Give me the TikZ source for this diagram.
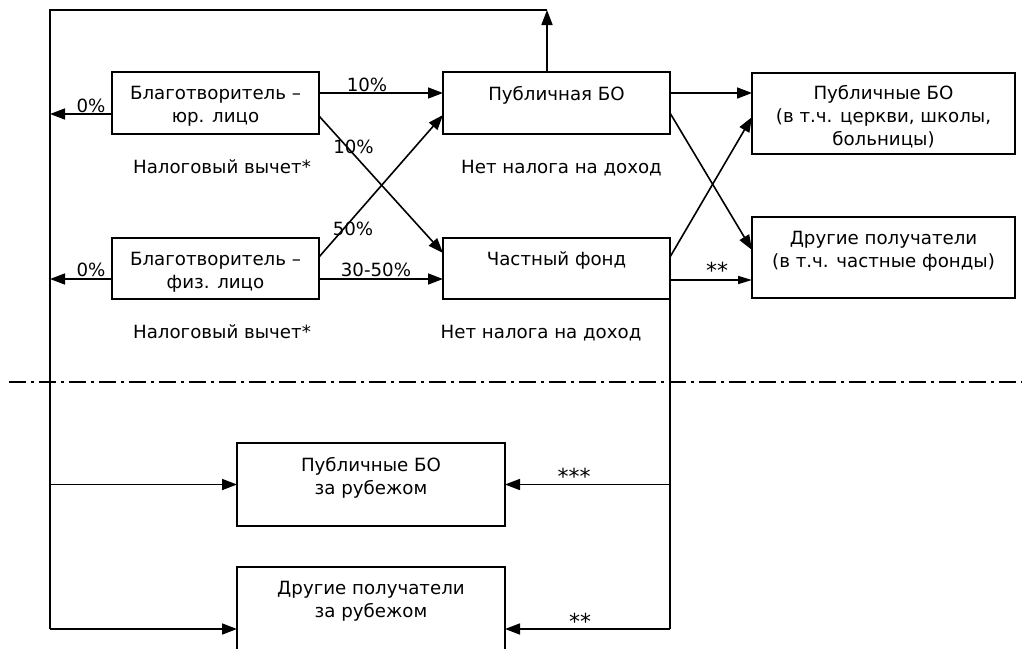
\documentclass[tikz,border=0pt]{standalone}
\usepackage{fontspec}
\setmainfont{DejaVu Sans}
\usetikzlibrary{arrows.meta}
\begin{document}
\begin{tikzpicture}[x=1pt,y=-1pt,
  txt/.style={font=\fontsize{18.2}{22.8}\selectfont, inner sep=0pt, align=center},
  stars/.style={font=\fontsize{22}{22}\selectfont, inner sep=0pt, anchor=base},
  box/.style={draw, line width=2.2pt, inner sep=0pt, outer sep=0pt},
  boxtxt/.style={txt, anchor=north},
  lbl/.style={txt, anchor=base},
  arr/.style={line width=1.6pt, -{Triangle[length=15pt,width=11pt]}},
  arrsmall/.style={line width=1.6pt, -{Triangle[length=14pt,width=8pt]}},
  bus/.style={line width=2pt},
  divider/.style={line width=2.2pt, dash pattern=on 17pt off 5pt on 2.5pt off 5.5pt}]
\useasboundingbox (0,0) rectangle (1022,648);
% boxes
\node[box, minimum width=207pt, minimum height=62pt] (b1) at (215.5,103) {};
\node[box, minimum width=227pt, minimum height=62pt] (p) at (556.5,103) {};
\node[box, minimum width=207pt, minimum height=61pt] (b2) at (215.5,268.5) {};
\node[box, minimum width=227pt, minimum height=61pt] (f) at (556.5,268.5) {};
\node[box, minimum width=263pt, minimum height=81pt] (r1) at (883.5,113.5) {};
\node[box, minimum width=263pt, minimum height=81pt] (r2) at (883.5,257.5) {};
\node[box, minimum width=268pt, minimum height=83pt] (a1) at (371,484.5) {};
\node[box, minimum width=268pt, minimum height=83pt] (a2) at (371,608.5) {};
% box texts
\node[boxtxt] (b1t) at ([yshift=-14pt]b1.north) {Благотворитель –\\юр. лицо};
\node[boxtxt] (pt) at ([yshift=-14pt]p.north) {Публичная БО};
\node[boxtxt] (b2t) at ([yshift=-14pt]b2.north) {Благотворитель –\\физ. лицо};
\node[boxtxt] (ft) at ([yshift=-13.5pt]f.north) {Частный фонд};
\node[boxtxt] (r1t) at ([yshift=-12.5pt]r1.north) {Публичные БО\\(в т.ч. церкви, школы,\\больницы)};
\node[boxtxt] (r2t) at ([yshift=-14.5pt]r2.north) {Другие получатели\\(в т.ч. частные фонды)};
\node[boxtxt] (a1t) at ([yshift=-14pt]a1.north) {Публичные БО\\за рубежом};
\node[boxtxt] (a2t) at ([yshift=-14.5pt]a2.north) {Другие получатели\\за рубежом};
% bus coordinates
\coordinate (tl) at (50,10);
\coordinate (tr) at (547,10);
\coordinate (bl) at (50,629);
\coordinate (br) at (670,629);
\coordinate (dl) at (9,382);
\coordinate (dr) at (1022,382);
% buses
\draw[arr] (tr |- p.north) -- (tr);
\draw[bus] (tr) -- (tl) -- (bl);
\draw[bus] (f.south east) -- (br);
% connectors
\coordinate (s1) at ([yshift=-11pt]b1.west);
\draw[arr] (s1) -- (s1 -| tl);
\coordinate (s2) at ([yshift=-10.5pt]b2.west);
\draw[arr] (s2) -- (s2 -| tl);
\coordinate (s3) at ([yshift=10pt]b1.east);
\draw[arr] (s3) -- (s3 -| p.west);
\draw[arr] ([yshift=-13pt]b1.east) -- ([yshift=15.5pt]f.west);
\draw[arr] ([yshift=11.5pt]b2.east) -- ([yshift=-12pt]p.west);
\coordinate (s4) at ([yshift=-10.5pt]b2.east);
\draw[arr] (s4) -- (s4 -| f.west);
\coordinate (s5) at ([yshift=10pt]p.east);
\draw[arr] (s5) -- (s5 -| r1.west);
\draw[arr] ([yshift=-10pt]p.east) -- ([yshift=7.5pt]r2.west);
\draw[arr] ([yshift=11.5pt]f.east) -- ([yshift=-3.5pt]r1.west);
\coordinate (s6) at ([yshift=-11.5pt]f.east);
\draw[arrsmall] (s6) -- (s6 -| r2.west);
\draw[arr] (tl |- a1.west) -- (a1.west);
\draw[arr] (br |- a1.east) -- (a1.east);
\draw[arr] (bl) -- (bl -| a2.west);
\draw[arr] (br) -- (br -| a2.east);
% divider
\draw[divider] (dl) -- (dr);
% labels
\node[lbl] (l1) at (91,112) {0\%};
\node[lbl] (l2) at (91,276) {0\%};
\node[lbl] (l3) at (367,91) {10\%};
\node[lbl] (l4) at (353.5,153) {10\%};
\node[lbl] (l5) at (353,235) {50\%};
\node[lbl] (l6) at (376,276) {30-50\%};
\node[stars] (l7) at (717,278) {**};
\node[stars] (l8) at (574,484) {***};
\node[stars] (l9) at (580,629) {**};
\node[lbl] (n1) at (222,173) {Налоговый вычет*};
\node[lbl] (n2) at (222,338) {Налоговый вычет*};
\node[lbl] (n3) at (561.5,173) {Нет налога на доход};
\node[lbl] (n4) at (541,338) {Нет налога на доход};
\end{tikzpicture}
\end{document}
